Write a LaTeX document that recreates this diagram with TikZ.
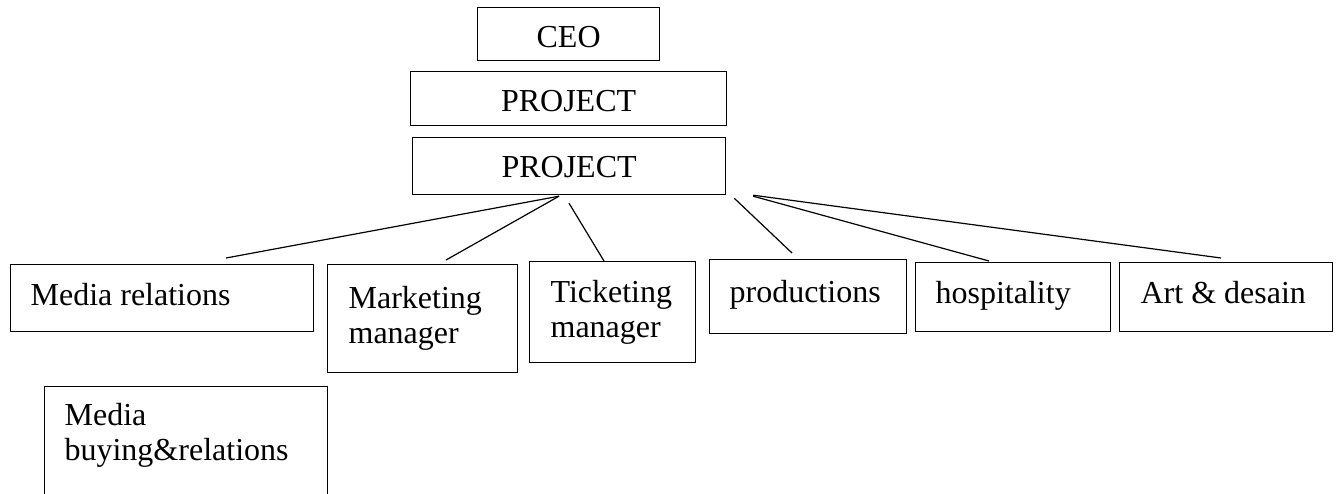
\documentclass[tikz,border=0pt]{standalone}
\usepackage{fontspec}
\setmainfont{Liberation Serif}
\usepackage{tikz}
\usetikzlibrary{calc}
\newcommand{\orgfont}{\fontsize{32}{35}\selectfont}
\tikzstyle{boite} = [rectangle, draw=black, line width=1.2pt, anchor=north west, inner ysep=0pt, align=flush left, font=\orgfont, text height=22pt, text depth=8pt]
\tikzstyle{lien} = [line width=1.2pt]

\begin{document}
\begin{tikzpicture}[x=1pt, y=-1pt]
        \useasboundingbox (0,0) rectangle (1340,493);
        \clip (0,0) rectangle (1340,493);

        \node (ceo)   [boite, inner xsep=0pt, text width=182pt, align=center, minimum height=53pt, text height=35pt] at (477,7) {CEO};
        \node (proj1) [boite, inner xsep=0pt, text width=316pt, align=center, minimum height=54pt, text height=34pt] at (410,71) {PROJECT};
        \node (proj2) [boite, inner xsep=0pt, text width=313pt, align=center, minimum height=57pt, text height=31pt] at (412,137) {PROJECT};

        \node (media) [boite, inner xsep=20pt, text width=263pt, minimum height=67pt, text height=23pt] at (10,264) {Media relations};
        \node (mkt)   [boite, inner xsep=21pt, text width=148pt, minimum height=108pt, text depth=42pt] at (327,264) {Marketing\\manager};
        \node (tix)   [boite, inner xsep=21pt, text width=124pt, minimum height=101pt, text depth=41pt] at (529,261) {Ticketing\\manager};
        \node (prod)  [boite, inner xsep=20pt, text width=157pt, minimum height=74pt, text height=20pt] at (709,259) {productions};
        \node (hosp)  [boite, inner xsep=20pt, text width=155pt, minimum height=69pt, text height=21pt] at (915,262) {hospitality};
        \node (art)   [boite, inner xsep=21pt, text width=171pt, minimum height=69pt, text height=21pt] at (1119,262) {Art \& desain};
        \node (buy)   [boite, inner xsep=20pt, text width=243pt, minimum height=130pt, text depth=74pt] at (44,386) {Media\\buying\&relations};

        \draw[lien] ($(proj2.south west)+(147,1)$) -- ($(media.north west)+(216,-6)$);
        \draw[lien] ($(proj2.south west)+(147,1)$) -- ($(mkt.north west)+(119,-4)$);
        \draw[lien] ($(proj2.south west)+(157,8)$) -- ($(tix.north west)+(75,0)$);
        \draw[lien] ($(proj2.south east)+(8,3)$) -- ($(prod.north west)+(83,-6)$);
        \draw[lien] ($(proj2.south east)+(27,1)$) -- ($(hosp.north west)+(74,-1)$);
        \draw[lien] ($(proj2.south east)+(27,0)$) -- ($(art.north west)+(102,-4)$);
    \end{tikzpicture}
\end{document}
